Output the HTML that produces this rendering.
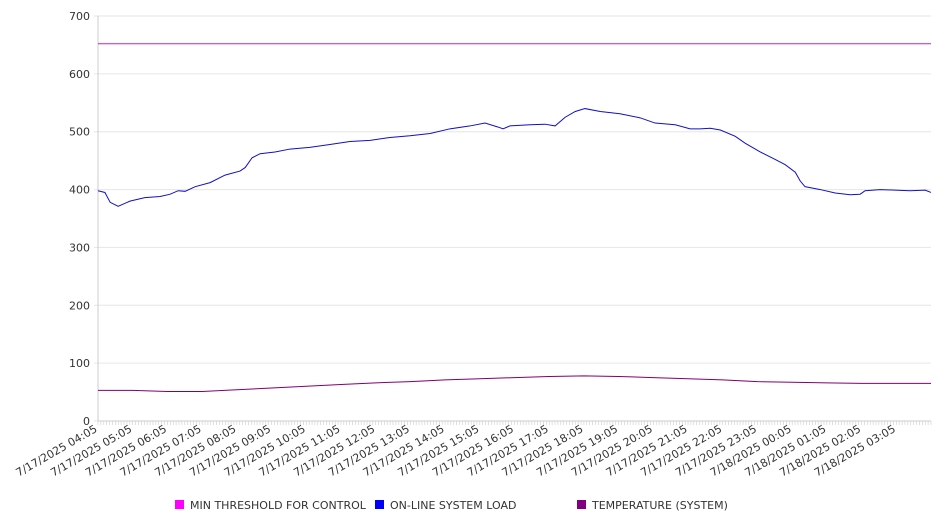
<!DOCTYPE html>
<html><head><meta charset="utf-8"><style>
body{margin:0;background:#fff;}
svg text{font-family:"DejaVu Sans","Liberation Sans",sans-serif;}
</style></head><body>
<svg id="chart" width="946" height="526" xmlns="http://www.w3.org/2000/svg"></svg>
<script>
const yTicks=[0,100,200,300,400,500,600,700];
const xLabels=["7/17/2025 04:05","7/17/2025 05:05","7/17/2025 06:05","7/17/2025 07:05","7/17/2025 08:05","7/17/2025 09:05","7/17/2025 10:05","7/17/2025 11:05","7/17/2025 12:05","7/17/2025 13:05","7/17/2025 14:05","7/17/2025 15:05","7/17/2025 16:05","7/17/2025 17:05","7/17/2025 18:05","7/17/2025 19:05","7/17/2025 20:05","7/17/2025 21:05","7/17/2025 22:05","7/17/2025 23:05","7/18/2025 00:05","7/18/2025 01:05","7/18/2025 02:05","7/18/2025 03:05"];
const thresholdValue=652;
const loadHours=[0,0.2,0.35,0.58,0.92,1.35,1.79,2.08,2.31,2.51,2.8,3.23,3.66,4.09,4.24,4.44,4.67,5.1,5.53,6.1,6.68,7.26,7.84,8.41,8.99,9.57,10.14,10.72,11.15,11.53,11.67,11.87,12.45,12.88,13.17,13.46,13.75,14.03,14.47,15.04,15.62,16.05,16.63,17.06,17.35,17.64,17.93,18.36,18.65,19.08,19.51,19.8,20.09,20.23,20.37,20.81,21.24,21.67,21.96,22.1,22.53,22.96,23.4,23.83,24.0];
const loadValues=[398,395,378,371,380,386,388,392,398,397,405,412,425,432,438,455,462,465,470,473,478,483,485,490,493,497,505,510,515,508,505,510,512,513,510,525,535,540,535,531,524,515,512,505,505,506,503,492,480,465,452,443,430,415,405,400,394,391,392,398,400,399,398,399,395];
const tempHours=[0,1,2,3,4,5,6,7,8,9,10,11,12,13,14,15,16,17,18,19,20,21,22,23,24];
const tempValues=[53,53,51,51,54,57,60,63,66,68,71,73,75,77,78,77,75,73,71,68,67,66,65,65,65];
const X0=98,X1=931,Y0=421,Y1=16,HMAX=24;
const sx=h=>X0+(h/HMAX)*(X1-X0);
const sy=v=>Y0-(v/700)*(Y0-Y1);
const svg=document.getElementById('chart');
const NS='http://www.w3.org/2000/svg';
function mk(tag,attrs){const e=document.createElementNS(NS,tag);for(const k in attrs)e.setAttribute(k,attrs[k]);svg.appendChild(e);return e;}
yTicks.forEach(v=>{
  const g=mk('line',{x1:X0-4,x2:X1,y1:sy(v),y2:sy(v),stroke:'#e6e6e6','stroke-width':1});
  
  
  const t=mk('text',{x:90,y:sy(v)+4,'text-anchor':'end','font-size':11,fill:'#333'});
  t.textContent=v;
  
  
});
const ax=mk('line',{x1:X0,x2:X0,y1:Y1,y2:Y0,stroke:'#ccc'});


const bx=mk('line',{x1:X0,x2:X1,y1:Y0,y2:Y0,stroke:'#ccc'});


for(let i=0;i<=288;i++){const x=X0+i*(X1-X0)/288;const m=mk('line',{x1:x,x2:x,y1:Y0,y2:Y0+4,stroke:'#ccc','stroke-width':0.6});}
xLabels.forEach((l,i)=>{
  const x=sx(i);
  const t=mk('text',{x:x,y:Y0+10,'text-anchor':'end','font-size':11,fill:'#333',transform:`rotate(-30 ${x} ${Y0+10})`});
  t.textContent=l;
  
  
});
const th=mk('line',{x1:X0,x2:X1,y1:sy(thresholdValue),y2:sy(thresholdValue),stroke:'#c020c0','stroke-width':1});


const lp=mk('polyline',{points:loadHours.map((h,i)=>sx(h)+','+sy(loadValues[i])).join(' '),fill:'none',stroke:'#1010c8','stroke-width':1});


const tp=mk('polyline',{points:tempHours.map((h,i)=>sx(h)+','+sy(tempValues[i])).join(' '),fill:'none',stroke:'#800070','stroke-width':1});


const legend=[["MIN THRESHOLD FOR CONTROL","#ff00ff",175],["ON-LINE SYSTEM LOAD","#0000ff",375],["TEMPERATURE (SYSTEM)","#800080",577]];
legend.forEach(([n,c,x])=>{
  const r=mk('rect',{x:x,y:500,width:9,height:9,fill:c});
  
  
  const t=mk('text',{x:x+15,y:509,'font-size':11,fill:'#333'});
  t.textContent=n;
  
  
});
</script>
</body></html>
